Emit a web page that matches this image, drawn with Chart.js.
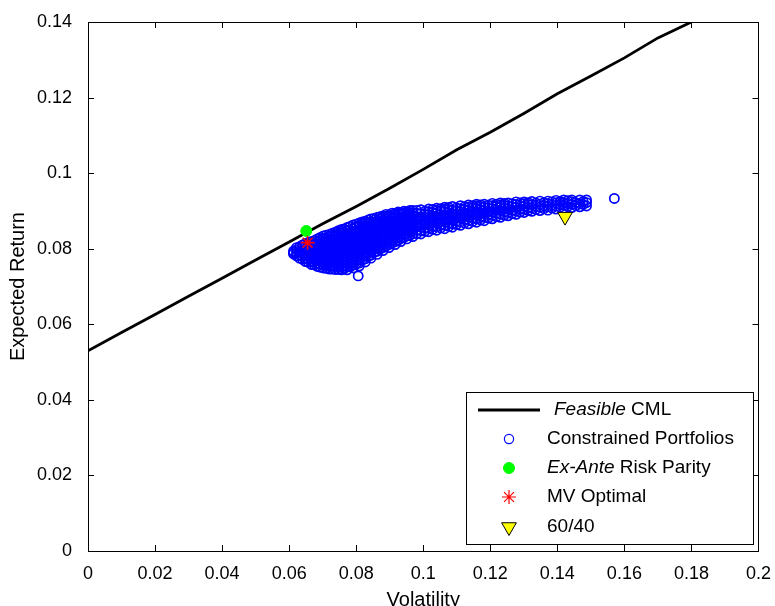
<!DOCTYPE html>
<html>
<head>
<meta charset="utf-8">
<script src="https://cdn.jsdelivr.net/npm/chart.js@4.4.0/dist/chart.umd.min.js"></script>
<style>
  html, body { margin: 0; padding: 0; background: #fff; }
  #wrap { width: 775px; height: 606px; }
</style>
</head>
<body>
<div id="wrap"><canvas id="myChart" width="775" height="606"></canvas></div>
<script>
// feasible capital market line
const cmlVol = [0, 0.01, 0.02, 0.03, 0.04, 0.05, 0.06, 0.07, 0.08, 0.09, 0.10, 0.11, 0.12, 0.13, 0.14, 0.15, 0.16, 0.17, 0.18];
const cmlRet = [0.0530, 0.0578, 0.0626, 0.0674, 0.0722, 0.0770, 0.0818, 0.0866, 0.0912, 0.0960, 0.1010, 0.1062, 0.1108, 0.1158, 0.1210, 0.1257, 0.1305, 0.1358, 0.1400];

// constrained portfolios, read column by column (one volatility, several returns)
const cloudVol = [
  0.0613, 0.0631, 0.0649, 0.0667, 0.0684, 0.0702, 0.0720, 0.0738, 0.0756, 0.0773, 0.0791,
  0.0806, 0.0809, 0.0827, 0.0844, 0.0862, 0.0880, 0.0898, 0.0916, 0.0933, 0.0951, 0.0969,
  0.0993, 0.1016, 0.1040, 0.1064, 0.1087, 0.1111, 0.1135, 0.1159, 0.1182, 0.1206, 0.1230,
  0.1253, 0.1277, 0.1301, 0.1324, 0.1348, 0.1372, 0.1396, 0.1419, 0.1443, 0.1467, 0.1487, 0.1570
];
const cloudRet = [
  [0.0786, 0.0790, 0.0794],
  [0.0775, 0.0783, 0.0791, 0.0799, 0.0805],
  [0.0766, 0.0774, 0.0782, 0.0790, 0.0798, 0.0806, 0.0814],
  [0.0758, 0.0766, 0.0774, 0.0782, 0.0790, 0.0798, 0.0806, 0.0813, 0.0819],
  [0.0753, 0.0761, 0.0769, 0.0777, 0.0785, 0.0793, 0.0801, 0.0809, 0.0817, 0.0826],
  [0.0749, 0.0757, 0.0765, 0.0773, 0.0781, 0.0789, 0.0797, 0.0805, 0.0813, 0.0821, 0.0828, 0.0834],
  [0.0746, 0.0754, 0.0762, 0.0770, 0.0778, 0.0786, 0.0794, 0.0802, 0.0810, 0.0818, 0.0826, 0.0833, 0.0838],
  [0.0745, 0.0753, 0.0761, 0.0769, 0.0777, 0.0785, 0.0793, 0.0801, 0.0809, 0.0817, 0.0825, 0.0833, 0.0840, 0.0844],
  [0.0744, 0.0752, 0.0760, 0.0768, 0.0776, 0.0784, 0.0792, 0.0800, 0.0808, 0.0816, 0.0824, 0.0832, 0.0840, 0.0846, 0.0851],
  [0.0744, 0.0752, 0.0760, 0.0768, 0.0776, 0.0784, 0.0792, 0.0800, 0.0808, 0.0816, 0.0824, 0.0832, 0.0840, 0.0848, 0.0856],
  [0.0749, 0.0757, 0.0765, 0.0773, 0.0781, 0.0789, 0.0797, 0.0805, 0.0813, 0.0821, 0.0829, 0.0837, 0.0845, 0.0853, 0.0863],
  [0.0728],
  [0.0754, 0.0762, 0.0770, 0.0778, 0.0786, 0.0794, 0.0802, 0.0810, 0.0818, 0.0826, 0.0834, 0.0842, 0.0850, 0.0859, 0.0868],
  [0.0765, 0.0773, 0.0781, 0.0789, 0.0797, 0.0805, 0.0813, 0.0821, 0.0829, 0.0837, 0.0845, 0.0853, 0.0861, 0.0868, 0.0873],
  [0.0775, 0.0783, 0.0791, 0.0799, 0.0807, 0.0815, 0.0823, 0.0831, 0.0839, 0.0847, 0.0855, 0.0863, 0.0871, 0.0879],
  [0.0785, 0.0793, 0.0801, 0.0809, 0.0817, 0.0825, 0.0833, 0.0841, 0.0849, 0.0857, 0.0865, 0.0873, 0.0883],
  [0.0795, 0.0803, 0.0811, 0.0819, 0.0827, 0.0835, 0.0843, 0.0851, 0.0859, 0.0867, 0.0875, 0.0882, 0.0887],
  [0.0803, 0.0811, 0.0819, 0.0827, 0.0835, 0.0843, 0.0851, 0.0859, 0.0867, 0.0875, 0.0882, 0.0889],
  [0.0811, 0.0819, 0.0827, 0.0835, 0.0843, 0.0851, 0.0859, 0.0867, 0.0875, 0.0883, 0.0889, 0.0893],
  [0.0819, 0.0827, 0.0835, 0.0843, 0.0851, 0.0859, 0.0867, 0.0875, 0.0883, 0.0890, 0.0896],
  [0.0826, 0.0834, 0.0842, 0.0850, 0.0858, 0.0866, 0.0874, 0.0882, 0.0890, 0.0898],
  [0.0832, 0.0840, 0.0848, 0.0856, 0.0864, 0.0872, 0.0880, 0.0888, 0.0895, 0.0901],
  [0.0839, 0.0848, 0.0857, 0.0866, 0.0875, 0.0884, 0.0893, 0.0903],
  [0.0845, 0.0854, 0.0863, 0.0872, 0.0881, 0.0890, 0.0898, 0.0905],
  [0.0849, 0.0858, 0.0867, 0.0876, 0.0885, 0.0894, 0.0901, 0.0907],
  [0.0853, 0.0862, 0.0871, 0.0880, 0.0889, 0.0898, 0.0905, 0.0910],
  [0.0857, 0.0866, 0.0875, 0.0884, 0.0893, 0.0902, 0.0912],
  [0.0862, 0.0871, 0.0880, 0.0889, 0.0898, 0.0906, 0.0914],
  [0.0866, 0.0875, 0.0884, 0.0893, 0.0902, 0.0910, 0.0916],
  [0.0870, 0.0879, 0.0888, 0.0897, 0.0906, 0.0913, 0.0918],
  [0.0874, 0.0883, 0.0892, 0.0901, 0.0910, 0.0918],
  [0.0879, 0.0888, 0.0897, 0.0906, 0.0914, 0.0920],
  [0.0883, 0.0892, 0.0901, 0.0910, 0.0916, 0.0921],
  [0.0887, 0.0896, 0.0905, 0.0913, 0.0921],
  [0.0891, 0.0900, 0.0909, 0.0917, 0.0924],
  [0.0896, 0.0904, 0.0912, 0.0919, 0.0924],
  [0.0899, 0.0908, 0.0917, 0.0925],
  [0.0901, 0.0910, 0.0918, 0.0926],
  [0.0902, 0.0911, 0.0919, 0.0926],
  [0.0905, 0.0913, 0.0921, 0.0928],
  [0.0907, 0.0915, 0.0922, 0.0929],
  [0.0909, 0.0917, 0.0924, 0.0929],
  [0.0911, 0.0919, 0.0929],
  [0.0913, 0.0922, 0.0929],
  [0.0933]
];

// extra readings between the columns above
const denseVol = [0.0622, 0.0640, 0.0658, 0.0676, 0.0693, 0.0711, 0.0729, 0.0747, 0.0764, 0.0782,
  0.0800, 0.0818, 0.0836, 0.0853, 0.0871, 0.0889, 0.0907, 0.0925, 0.0942, 0.0960,
  0.0981, 0.1005, 0.1028, 0.1052, 0.1076, 0.1099, 0.1123, 0.1147, 0.1171, 0.1194, 0.1218,
  0.1242, 0.1265, 0.1289, 0.1313, 0.1336, 0.1360, 0.1384, 0.1408, 0.1431, 0.1455, 0.1477];
const denseRet = [
  [0.0781, 0.0789, 0.0797, 0.0803],
  [0.0772, 0.0780, 0.0788, 0.0796, 0.0804, 0.0810],
  [0.0764, 0.0772, 0.0780, 0.0788, 0.0796, 0.0804, 0.0812, 0.0817],
  [0.0757, 0.0765, 0.0773, 0.0781, 0.0789, 0.0797, 0.0805, 0.0813, 0.0822],
  [0.0751, 0.0759, 0.0767, 0.0775, 0.0783, 0.0791, 0.0799, 0.0807, 0.0815, 0.0823, 0.0830],
  [0.0748, 0.0756, 0.0764, 0.0772, 0.0780, 0.0788, 0.0796, 0.0804, 0.0812, 0.0820, 0.0829, 0.0836],
  [0.0746, 0.0754, 0.0762, 0.0770, 0.0778, 0.0786, 0.0794, 0.0802, 0.0810, 0.0818, 0.0826, 0.0834, 0.0841],
  [0.0745, 0.0753, 0.0761, 0.0769, 0.0777, 0.0785, 0.0793, 0.0801, 0.0809, 0.0817, 0.0825, 0.0833, 0.0841, 0.0848],
  [0.0747, 0.0755, 0.0763, 0.0771, 0.0779, 0.0787, 0.0795, 0.0803, 0.0811, 0.0819, 0.0827, 0.0835, 0.0843, 0.0852],
  [0.0752, 0.0760, 0.0768, 0.0776, 0.0784, 0.0792, 0.0800, 0.0808, 0.0816, 0.0824, 0.0832, 0.0840, 0.0849, 0.0859],
  [0.0760, 0.0768, 0.0776, 0.0784, 0.0792, 0.0800, 0.0808, 0.0816, 0.0824, 0.0832, 0.0840, 0.0848, 0.0857, 0.0865],
  [0.0770, 0.0778, 0.0786, 0.0794, 0.0802, 0.0810, 0.0818, 0.0826, 0.0834, 0.0842, 0.0850, 0.0858, 0.0866, 0.0871],
  [0.0780, 0.0788, 0.0796, 0.0804, 0.0812, 0.0820, 0.0828, 0.0836, 0.0844, 0.0852, 0.0860, 0.0868, 0.0876],
  [0.0790, 0.0798, 0.0806, 0.0814, 0.0822, 0.0830, 0.0838, 0.0846, 0.0854, 0.0862, 0.0870, 0.0880],
  [0.0799, 0.0807, 0.0815, 0.0823, 0.0831, 0.0839, 0.0847, 0.0855, 0.0863, 0.0871, 0.0879, 0.0885],
  [0.0807, 0.0815, 0.0823, 0.0831, 0.0839, 0.0847, 0.0855, 0.0863, 0.0871, 0.0879, 0.0886, 0.0891],
  [0.0815, 0.0823, 0.0831, 0.0839, 0.0847, 0.0855, 0.0863, 0.0871, 0.0879, 0.0887, 0.0894],
  [0.0822, 0.0830, 0.0838, 0.0846, 0.0854, 0.0862, 0.0870, 0.0878, 0.0886, 0.0893, 0.0897],
  [0.0829, 0.0837, 0.0845, 0.0853, 0.0861, 0.0869, 0.0877, 0.0885, 0.0893, 0.0899],
  [0.0835, 0.0844, 0.0853, 0.0862, 0.0871, 0.0880, 0.0889, 0.0896, 0.0901],
  [0.0840, 0.0849, 0.0858, 0.0867, 0.0876, 0.0885, 0.0894, 0.0901],
  [0.0846, 0.0855, 0.0864, 0.0873, 0.0882, 0.0891, 0.0899],
  [0.0851, 0.0860, 0.0869, 0.0878, 0.0887, 0.0896, 0.0904],
  [0.0855, 0.0864, 0.0873, 0.0882, 0.0891, 0.0900, 0.0906],
  [0.0859, 0.0868, 0.0877, 0.0886, 0.0895, 0.0904, 0.0909],
  [0.0864, 0.0873, 0.0882, 0.0891, 0.0900, 0.0908],
  [0.0868, 0.0877, 0.0886, 0.0895, 0.0904, 0.0911],
  [0.0872, 0.0881, 0.0890, 0.0899, 0.0908, 0.0914],
  [0.0876, 0.0885, 0.0894, 0.0903, 0.0911, 0.0916],
  [0.0881, 0.0890, 0.0899, 0.0908, 0.0915],
  [0.0885, 0.0894, 0.0903, 0.0912, 0.0918],
  [0.0889, 0.0898, 0.0907, 0.0915, 0.0920],
  [0.0893, 0.0902, 0.0911, 0.0919],
  [0.0897, 0.0905, 0.0913, 0.0921],
  [0.0901, 0.0909, 0.0917, 0.0922],
  [0.0904, 0.0913, 0.0921],
  [0.0906, 0.0914, 0.0922],
  [0.0908, 0.0916, 0.0924],
  [0.0910, 0.0918, 0.0925],
  [0.0912, 0.0920, 0.0927],
  [0.0914, 0.0922],
  [0.0917, 0.0925]
];

// single portfolios
const riskParity = { vol: 0.0651, ret: 0.0847 };
const mvOptimal = { vol: 0.0655, ret: 0.0816 };
const sixtyForty = { vol: 0.1423, ret: 0.0885 };

const xTicks = [0, 0.02, 0.04, 0.06, 0.08, 0.1, 0.12, 0.14, 0.16, 0.18, 0.2];
const yTicks = [0, 0.02, 0.04, 0.06, 0.08, 0.1, 0.12, 0.14];

const FONT = "'Liberation Sans', Arial, sans-serif";

const cmlData = cmlVol.map((v, i) => ({ x: v, y: cmlRet[i] }));
const cloudData = [];
cloudVol.forEach((v, i) => cloudRet[i].forEach(r => cloudData.push({ x: v, y: r })));
denseVol.forEach((v, i) => denseRet[i].forEach(r => cloudData.push({ x: v, y: r })));

const fmt = v => String(Number(v.toFixed(2)));

// matlab style box with inward ticks on all sides
const boxPlugin = {
  id: "box",
  afterDatasetsDraw(chart) {
    const { ctx, chartArea: a, scales } = chart;
    ctx.save();
    ctx.strokeStyle = "#000";
    ctx.lineWidth = 1;
    ctx.beginPath();
    xTicks.forEach(t => {
      const px = Math.round(scales.x.getPixelForValue(t)) + 0.5;
      ctx.moveTo(px, a.bottom); ctx.lineTo(px, a.bottom - 6);
      ctx.moveTo(px, a.top); ctx.lineTo(px, a.top + 6);
    });
    yTicks.forEach(t => {
      const py = Math.round(scales.y.getPixelForValue(t)) + 0.5;
      ctx.moveTo(a.left, py); ctx.lineTo(a.left + 6, py);
      ctx.moveTo(a.right, py); ctx.lineTo(a.right - 6, py);
    });
    ctx.stroke();
    ctx.strokeRect(Math.round(a.left) + 0.5, Math.round(a.top) + 0.5, Math.round(a.right - a.left), Math.round(a.bottom - a.top));
    ctx.restore();
  }
};

// legend drawn by hand because of the italic words
const legendPlugin = {
  id: "handLegend",
  afterDraw(chart) {
    const { ctx } = chart;
    const bx = 466, by = 392, bw = 287, bh = 152;
    ctx.save();
    ctx.fillStyle = "#fff";
    ctx.fillRect(bx, by, bw, bh);
    ctx.strokeStyle = "#000";
    ctx.lineWidth = 1;
    ctx.strokeRect(bx + 0.5, by + 0.5, bw, bh);

    const mx = 509, tx = 547;
    const rows = [410, 439, 468, 497, 527];
    const write = (parts, y, x0) => {
      let x = x0 || tx;
      ctx.fillStyle = "#000";
      ctx.textBaseline = "middle";
      ctx.textAlign = "left";
      parts.forEach(([txt, italic]) => {
        ctx.font = (italic ? "italic " : "") + "19px " + FONT;
        ctx.fillText(txt, x, y);
        x += ctx.measureText(txt).width;
      });
    };

    ctx.strokeStyle = "#000";
    ctx.lineWidth = 2.8;
    ctx.beginPath(); ctx.moveTo(478, rows[0]); ctx.lineTo(540, rows[0]); ctx.stroke();
    write([["Feasible", true], [" CML", false]], rows[0], 554);

    const marker = (ds, y, lw) => {
      ctx.fillStyle = ds.pointBackgroundColor;
      ctx.strokeStyle = ds.pointBorderColor;
      ctx.lineWidth = lw;
      Chart.helpers.drawPoint(ctx, {
        pointStyle: ds.pointStyle, radius: ds.pointRadius,
        rotation: ds.pointRotation || 0, borderWidth: lw
      }, mx, y);
    };
    const ds = chart.data.datasets;
    marker(ds[3], rows[1], 1.2);
    write([["Constrained Portfolios", false]], rows[1]);
    marker(ds[2], rows[2], 1);
    write([["Ex-Ante", true], [" Risk Parity", false]], rows[2]);
    marker(ds[1], rows[3], 1.2);
    write([["MV Optimal", false]], rows[3]);
    marker(ds[0], rows[4], 1);
    write([["60/40", false]], rows[4]);
    ctx.restore();
  }
};

const ctx = document.getElementById("myChart");

new Chart(ctx, {
  type: "scatter",
  data: {
    datasets: [
      {
        label: "60/40",
        data: [{ x: sixtyForty.vol, y: sixtyForty.ret }],
        pointStyle: "triangle",
        pointRotation: 180,
        pointRadius: 8.5,
        pointBackgroundColor: "#ffff00",
        pointBorderColor: "#000000",
        pointBorderWidth: 1,
      },
      {
        label: "MV Optimal",
        data: [{ x: mvOptimal.vol, y: mvOptimal.ret }],
        pointStyle: "star",
        pointRadius: 7,
        pointBackgroundColor: "#ff0000",
        pointBorderColor: "#ff0000",
        pointBorderWidth: 1.6,
      },
      {
        label: "Ex-Ante Risk Parity",
        data: [{ x: riskParity.vol, y: riskParity.ret }],
        pointStyle: "circle",
        pointRadius: 5.5,
        pointBackgroundColor: "#00ff00",
        pointBorderColor: "#00ff00",
        pointBorderWidth: 1,
      },
      {
        label: "Constrained Portfolios",
        data: cloudData,
        pointStyle: "circle",
        pointRadius: 4.6,
        pointBackgroundColor: "rgba(0,0,0,0)",
        pointBorderColor: "#0000ff",
        pointBorderWidth: 1.7,
      },
      {
        label: "Feasible CML",
        data: cmlData,
        showLine: true,
        borderColor: "#000000",
        borderWidth: 2.8,
        pointRadius: 0,
        tension: 0,
      },
    ],
  },
  options: {
    responsive: false,
    animation: false,
    events: [],
    layout: { padding: { top: 22, right: 12, left: 0, bottom: 0 } },
    plugins: { legend: { display: false }, tooltip: { enabled: false } },
    scales: {
      x: {
        type: "linear",
        min: 0, max: 0.2,
        afterBuildTicks: s => { s.ticks = xTicks.map(v => ({ value: v })); },
        afterFit: s => { s.height = 55; },
        grid: { display: false },
        border: { display: false },
        ticks: { color: "#000", padding: 4, font: { family: FONT, size: 18 }, callback: v => fmt(v), maxRotation: 0, autoSkip: false },
        title: { display: true, text: "Volatility", color: "#000", font: { family: FONT, size: 20 }, padding: { top: 0, bottom: -6 } },
      },
      y: {
        type: "linear",
        min: 0, max: 0.14,
        afterBuildTicks: s => { s.ticks = yTicks.map(v => ({ value: v })); },
        afterFit: s => { s.width = 88; },
        grid: { display: false },
        border: { display: false },
        ticks: { color: "#000", padding: 8, font: { family: FONT, size: 18 }, callback: v => fmt(v), autoSkip: false },
        title: { display: true, text: "Expected Return", color: "#000", font: { family: FONT, size: 20 }, padding: { top: 6, bottom: 0 } },
      },
    },
  },
  plugins: [boxPlugin, legendPlugin],
});
</script>
</body>
</html>
